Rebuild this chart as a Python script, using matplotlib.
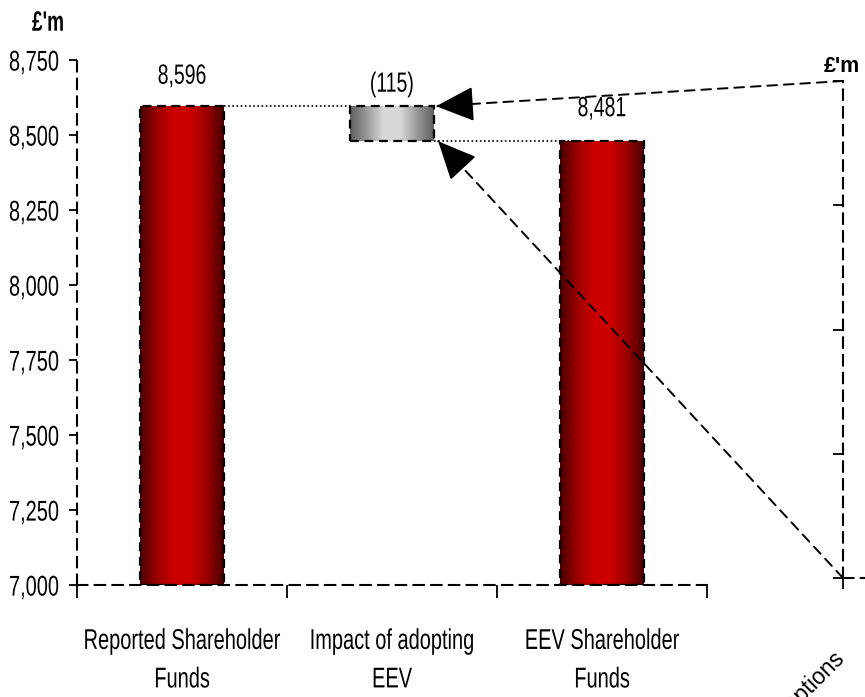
import numpy as np
import matplotlib
matplotlib.use("Agg")
import matplotlib.pyplot as plt
from matplotlib.colors import LinearSegmentedColormap
from matplotlib.patches import Rectangle, ConnectionPatch
from matplotlib.patheffects import AbstractPathEffect
from matplotlib.transforms import Affine2D

# ---- data ----
categories = ["Reported Shareholder\nFunds", "Impact of adopting\nEEV", "EEV Shareholder\nFunds"]
reported_funds = 8596
eev_impact = -115
eev_funds = 8481
value_labels = ["8,596", "(115)", "8,481"]
y_ticks = [7000, 7250, 7500, 7750, 8000, 8250, 8500, 8750]
unit_label = "£'m"
second_category = "Change in economic assumptions"

plt.rcParams["font.family"] = ["Liberation Sans", "DejaVu Sans"]


class Tall(AbstractPathEffect):
    """Draw text glyphs stretched vertically about mid cap height."""

    def __init__(self, sy=1.43, pivot=36.0):
        super().__init__()
        self.sy = sy
        self.pivot = pivot

    def draw_path(self, renderer, gc, tpath, affine, rgbFace=None):
        pre = Affine2D().translate(0, -self.pivot).scale(1, self.sy).translate(0, self.pivot)
        renderer.draw_path(gc, tpath, pre + affine, rgbFace)


TALL = [Tall(1.43)]

W, H = 865, 697
fig = plt.figure(figsize=(W / 100, H / 100), dpi=100)
fig.patch.set_facecolor("white")


def fx(px):
    return px / W


def fy(py):
    return 1 - py / H


ax = fig.add_axes([fx(77), fy(585), fx(707) - fx(77), fy(60) - fy(585)])
ax.set_xlim(-0.5, 2.5)
ax.set_ylim(7000, 8750)

dash = (0, (5, 3.5))
for s in ["top", "right"]:
    ax.spines[s].set_visible(False)
for s in ["left", "bottom"]:
    ax.spines[s].set_linestyle(dash)
    ax.spines[s].set_linewidth(1.5)

ax.set_yticks(y_ticks)
ax.set_yticklabels([f"{v:,}" for v in y_ticks], fontsize=14.4)
ax.tick_params(axis="y", direction="out", length=6, width=1.3, pad=7)
for lab in ax.get_yticklabels():
    lab.set_path_effects(TALL)

ax.set_xticks([-0.5, 0.5, 1.5, 2.5])
ax.set_xticklabels([])
ax.tick_params(axis="x", which="major", direction="out", length=9, width=1.3)
ax.set_xticks([0, 1, 2], minor=True)
ax.set_xticklabels(categories, minor=True, fontsize=14.4, linespacing=2.3)
ax.tick_params(axis="x", which="minor", length=0, pad=33)
for lab in ax.get_xticklabels(minor=True):
    lab.set_path_effects(TALL)

red_cmap = LinearSegmentedColormap.from_list(
    "redbar", ["#480000", "#9a0000", "#cc0000", "#cc0000", "#9a0000", "#480000"])
grey_cmap = LinearSegmentedColormap.from_list(
    "greybar", ["#5e5e5e", "#9a9a9a", "#d8d8d8", "#d8d8d8", "#9a9a9a", "#5e5e5e"])

width = 0.4
bottoms = [7000, reported_funds + eev_impact, 7000]
heights = [reported_funds - 7000, -eev_impact, eev_funds - 7000]
cmaps = [red_cmap, grey_cmap, red_cmap]
grad = np.linspace(0, 1, 256).reshape(1, -1)

for i, (b, h, cm) in enumerate(zip(bottoms, heights, cmaps)):
    x0 = i - width / 2
    rect = Rectangle((x0, b), width, h, facecolor="none", edgecolor="black",
                     linestyle=(0, (4, 2.5)), linewidth=1.6, zorder=3)
    ax.add_patch(rect)
    im = ax.imshow(grad, cmap=cm, aspect="auto", extent=(x0, x0 + width, b, b + h),
                   zorder=2, interpolation="bicubic")
    im.set_clip_path(rect)

ax.set_xlim(-0.5, 2.5)
ax.set_ylim(7000, 8750)

# connector lines between the steps
ax.plot([0 + width / 2, 1 - width / 2], [reported_funds, reported_funds],
        color="black", linestyle=(0, (1, 1.5)), linewidth=1.2, zorder=1)
ax.plot([1 + width / 2, 2 - width / 2 + 0.17], [eev_funds, eev_funds],
        color="black", linestyle=(0, (1, 1.5)), linewidth=1.2, zorder=4)

# value labels
tops = [reported_funds, reported_funds, eev_funds]
offsets = [30, 22, 32]
for i, (t, lab, off) in enumerate(zip(tops, value_labels, offsets)):
    ax.annotate(lab, (i, t), xytext=(0, off * 0.72), textcoords="offset points",
                ha="center", va="center", fontsize=14, path_effects=TALL)

fig.text(fx(48), fy(23), unit_label, fontsize=13.7, fontweight="bold",
         ha="center", va="center", path_effects=[Tall(1.47)])

# zoomed detail axis on the right
ax2 = fig.add_axes([fx(843), fy(578), 0.3, fy(81) - fy(578)])
ax2.set_xlim(0, 1)
ax2.set_ylim(eev_funds, reported_funds)
ax2.patch.set_alpha(0)
for s in ["top", "right"]:
    ax2.spines[s].set_visible(False)
for s in ["left", "bottom"]:
    ax2.spines[s].set_linestyle(dash)
    ax2.spines[s].set_linewidth(1.5)
ax2.set_yticks(np.linspace(eev_funds, reported_funds, 5))
ax2.set_yticklabels([])
ax2.tick_params(axis="y", direction="out", length=7, width=1.3)
ax2.set_xticks([0])
ax2.set_xticklabels([])
ax2.tick_params(axis="x", direction="inout", length=16, width=1.3)
fig.text(fx(842), fy(67), unit_label, fontsize=15.5, fontweight="bold",
         ha="center", va="center")
fig.text(fx(846), fy(660), second_category, fontsize=16.5, rotation=45,
         rotation_mode="anchor", ha="right", va="baseline")

# arrows linking the zoomed axis back to the impact step
links = [((1 + width / 2 + 0.01, reported_funds), (0, 1)),
         ((1 + width / 2 + 0.02, eev_funds - 2), (0, 0))]
for tip, corner in links:
    con = ConnectionPatch(xyA=corner, coordsA=ax2.transAxes, xyB=tip,
                          coordsB=ax.transData, linestyle=dash, linewidth=1.4,
                          color="black")
    fig.add_artist(con)
    p_tip = ax.transData.transform(tip)
    p_end = ax2.transAxes.transform(corner)
    d = (p_end - p_tip) / np.hypot(*(p_end - p_tip))
    p_tail = p_tip + d * 30
    ax.annotate("", xy=tip, xycoords="data", xytext=tuple(p_tail),
                textcoords="figure pixels",
                arrowprops=dict(arrowstyle="-|>,head_length=1.2,head_width=0.55",
                                color="black", linewidth=1.4, shrinkA=0, shrinkB=0,
                                mutation_scale=20),
                annotation_clip=False)

fig.savefig("out.png", dpi=100)
